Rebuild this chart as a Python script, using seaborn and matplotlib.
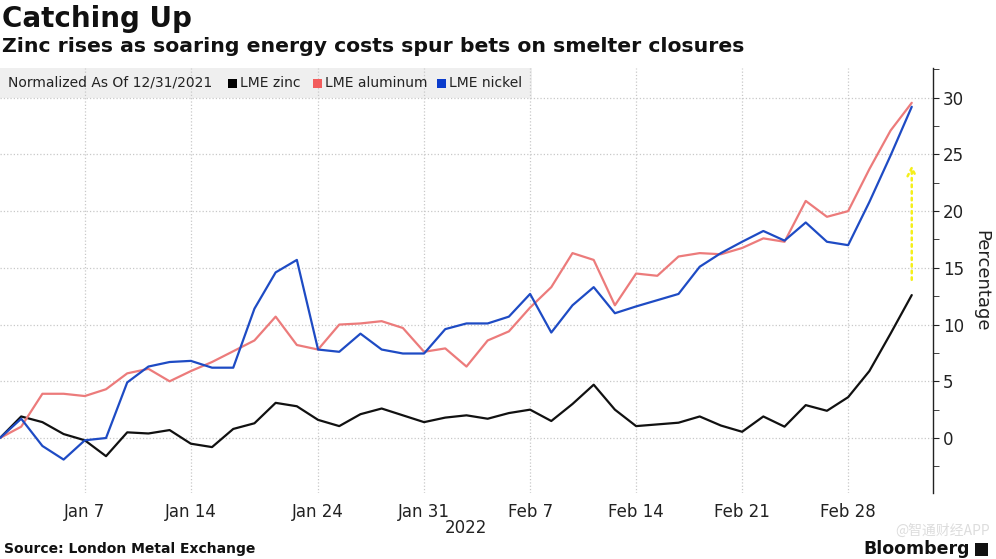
import numpy as np
import pandas as pd
import matplotlib
matplotlib.use('Agg')
import matplotlib.pyplot as plt
import matplotlib.ticker as mticker
from matplotlib.patches import Rectangle
import seaborn as sns

# trading days from the 12/31/2021 base to Mar 3, 2022 (LME closed Jan 3)
dates = [pd.Timestamp('2021-12-31')] + list(pd.bdate_range('2022-01-04', '2022-03-03'))

zinc = [0, 1.9, 1.4, 0.35, -0.2, -1.6, 0.5, 0.4, 0.7, -0.5, -0.8, 0.8, 1.3, 3.1, 2.8, 1.6,
        1.05, 2.1, 2.6, 2.0, 1.4, 1.8, 2.0, 1.7, 2.2, 2.5, 1.5, 3.0, 4.7, 2.5,
        1.05, 1.2, 1.35, 1.9, 1.1, 0.55, 1.9, 1.0, 2.9, 2.4, 3.6, 5.9, 9.2, 12.6]
aluminum = [0, 1.0, 3.9, 3.9, 3.7, 4.3, 5.7, 6.1, 5.0, 5.9, 6.7, 7.65, 8.6, 10.7, 8.2, 7.8,
            10.0, 10.1, 10.3, 9.7, 7.6, 7.9, 6.3, 8.6, 9.4, 11.5, 13.3, 16.3, 15.7, 11.7,
            14.5, 14.3, 16.0, 16.3, 16.2, 16.75, 17.6, 17.3, 20.9, 19.5, 20.0, 23.7, 27.1, 29.55]
nickel = [0, 1.7, -0.7, -1.9, -0.2, 0.0, 4.9, 6.3, 6.7, 6.8, 6.2, 6.2, 11.4, 14.6, 15.7, 7.8,
          7.6, 9.2, 7.8, 7.45, 7.45, 9.6, 10.1, 10.1, 10.7, 12.7, 9.3, 11.7, 13.3, 11.0,
          11.6, 12.15, 12.7, 15.1, 16.3, 17.3, 18.25, 17.4, 19.0, 17.3, 17.0, 20.8, 24.9, 29.2]

series_names = ['LME zinc', 'LME aluminum', 'LME nickel']
colors = {'LME zinc': '#111111', 'LME aluminum': '#ec7b7b', 'LME nickel': '#1e4bc4'}
legend_colors = {'LME zinc': '#000000', 'LME aluminum': '#f25c5c', 'LME nickel': '#0b3ccc'}

tick_dates = ['2022-01-07', '2022-01-14', '2022-01-24', '2022-01-31',
              '2022-02-07', '2022-02-14', '2022-02-21', '2022-02-28']
tick_labels = ['Jan 7', 'Jan 14', 'Jan 24', 'Jan 31', 'Feb 7', 'Feb 14', 'Feb 21', 'Feb 28']

# yellow arrow next to the last points
arrow_from = 13.7
arrow_to = 24.3

df = pd.DataFrame({
    'idx': np.tile(np.arange(len(dates)), 3),
    'value': zinc + aluminum + nickel,
    'metal': np.repeat(series_names, len(dates)),
})

sns.set_style('white')
plt.rcParams['font.family'] = ['DejaVu Sans', 'Noto Sans CJK SC']

fig = plt.figure(figsize=(9.96, 5.59), dpi=100)
ax = fig.add_axes([0, 0.118, 0.9367, 0.760])

sns.lineplot(data=df, x='idx', y='value', hue='metal', palette=colors,
             hue_order=series_names, linewidth=1.6, legend=False, ax=ax)

ax.set_xlim(0, 44)
ax.set_ylim(-4.85, 32.6)

date_pos = {d.strftime('%Y-%m-%d'): i for i, d in enumerate(dates)}
ax.set_xticks([date_pos[d] for d in tick_dates])
ax.set_xticklabels(tick_labels)
ax.set_xlabel('')

ax.yaxis.tick_right()
ax.yaxis.set_label_position('right')
ax.yaxis.set_major_locator(mticker.MultipleLocator(5))
ax.yaxis.set_minor_locator(mticker.MultipleLocator(2.5))
ax.set_ylabel('Percentage', rotation=270, fontsize=13, labelpad=19, color='#222222')

for s in ['top', 'left', 'bottom']:
    ax.spines[s].set_visible(False)
ax.spines['right'].set_color('#222222')
ax.spines['right'].set_linewidth(1)

ax.tick_params(axis='x', length=0, labelsize=12, pad=7, colors='#222222')
ax.tick_params(axis='y', which='major', length=4, labelsize=12, pad=3, colors='#222222')
ax.tick_params(axis='y', which='minor', length=4, colors='#222222')

ax.set_axisbelow(True)
ax.grid(True, which='major', linestyle=':', color='#c8c8c8', linewidth=0.9)

# grey legend band
ax.add_patch(Rectangle((0, 0.929), 0.57, 0.071, transform=ax.transAxes,
                       facecolor='#efefef', edgecolor='none', zorder=0.2))

ax.annotate('', xy=(43, arrow_to), xytext=(43, arrow_from),
            arrowprops=dict(arrowstyle='->', color='#f5ef1a', linestyle=':',
                            linewidth=1.8, mutation_scale=15))

W, H = 996, 559
def fx(x):
    return x / W
def fy(y):
    return 1 - y / H

fig.text(fx(2), fy(19), 'Catching Up', fontsize=20, weight='bold', va='center', color='#111111')
fig.text(fx(2), fy(47), 'Zinc rises as soaring energy costs spur bets on smelter closures',
         fontsize=14.7, weight='bold', va='center', color='#111111')

fig.text(fx(8), fy(83), 'Normalized As Of 12/31/2021', fontsize=10, va='center', color='#222222')
legend_x = {'LME zinc': 228, 'LME aluminum': 313, 'LME nickel': 437}
for name in series_names:
    x0 = legend_x[name]
    fig.patches.append(Rectangle((fx(x0), fy(88)), 9 / W, 9 / H, transform=fig.transFigure,
                                 facecolor=legend_colors[name], edgecolor='none'))
    fig.text(fx(x0 + 12), fy(83), name, fontsize=10, va='center', color='#222222')

fig.text(fx(466), fy(528), '2022', fontsize=12, ha='center', va='center', color='#222222')
fig.text(fx(4), fy(549), 'Source: London Metal Exchange', fontsize=10, weight='bold',
         va='center', color='#111111')

fig.text(fx(990), fy(531), '@智通财经APP', fontsize=10, ha='right', va='center', color='#dddddd',
         family=['Noto Sans CJK SC', 'DejaVu Sans'])
fig.text(fx(970), fy(549), 'Bloomberg', fontsize=12.5, weight='bold', ha='right', va='center',
         color='#111111')
fig.patches.append(Rectangle((fx(975), fy(556)), 13 / W, 13 / H, transform=fig.transFigure,
                             facecolor='#111111', edgecolor='none'))

plt.savefig('out.png', dpi=100)
plt.close()
